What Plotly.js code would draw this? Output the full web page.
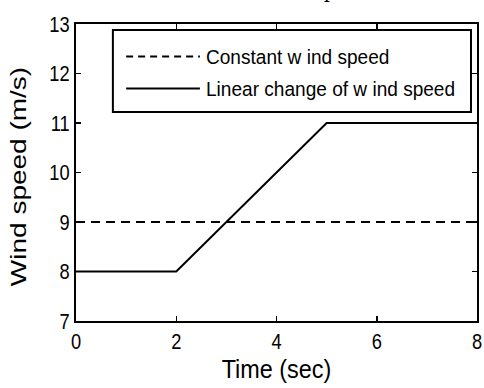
<!DOCTYPE html>
<html>
<head>
<meta charset="utf-8">
<script src="https://cdn.plot.ly/plotly-3.0.1.min.js"></script>
<style>
  html, body { margin: 0; padding: 0; background: #fff; }
  #chart { width: 484px; height: 388px; }
</style>
</head>
<body>
<div id="chart"></div>
<script>
// Wind speed profiles over time
const constantTime = [0, 8];
const constantSpeed = [9, 9];
const rampTime = [0, 2, 5, 8];
const rampSpeed = [8, 8, 11, 11];
const legendLabels = ['Constant w ind speed', 'Linear change of w ind speed'];
const xTicks = [0, 2, 4, 6, 8];
const yTicks = [7, 8, 9, 10, 11, 12, 13];

const sans = '"Liberation Sans", Arial, sans-serif';

const traces = [
  {
    x: constantTime, y: constantSpeed, mode: 'lines', name: legendLabels[0],
    line: { color: '#000', width: 2, dash: '9px,6px' }
  },
  {
    x: rampTime, y: rampSpeed, mode: 'lines', name: legendLabels[1],
    line: { color: '#000', width: 2 }
  }
];

// hand-built legend box, in paper coordinates
const lgX0 = 0.092, lgX1 = 0.985, lgY0 = 0.704, lgY1 = 0.980;
const rowY = [0.8906, 0.7828];
const sampleX0 = 0.125, sampleX1 = 0.309, textX = 0.32;

const shapes = [
  { type: 'rect', xref: 'paper', yref: 'paper', x0: lgX0, x1: lgX1, y0: lgY0, y1: lgY1,
    line: { color: '#000', width: 2 }, fillcolor: 'rgba(255,255,255,1)' },
  { type: 'line', xref: 'paper', yref: 'paper', x0: sampleX0, x1: sampleX1, y0: rowY[0], y1: rowY[0],
    line: { color: '#000', width: 2, dash: '7px,5px' } },
  { type: 'line', xref: 'paper', yref: 'paper', x0: sampleX0, x1: sampleX1, y0: rowY[1], y1: rowY[1],
    line: { color: '#000', width: 2 } }
];

const annotations = legendLabels.map((t, i) => ({
  xref: 'paper', yref: 'paper', x: textX, y: rowY[i], xanchor: 'left', yanchor: 'middle',
  text: t, showarrow: false, font: { family: sans, size: 20.5, color: '#000' }
}));
// descender of the caption line above the figure
annotations.push({
  xref: 'paper', yref: 'paper', x: 0.633, y: 1.066, xanchor: 'center', yanchor: 'bottom',
  text: 'p', showarrow: false, font: { family: '"Liberation Serif", serif', size: 28, color: '#000' }
});

const layout = {
  width: 484, height: 388,
  margin: { l: 76, r: 7, t: 24, b: 67 },
  paper_bgcolor: '#fff', plot_bgcolor: '#fff',
  showlegend: false,
  xaxis: {
    range: [0, 8], tickvals: xTicks, ticktext: xTicks.map(String),
    ticks: 'inside', ticklen: 5, tickwidth: 1.5, tickcolor: '#000',
    showline: true, linecolor: '#000', linewidth: 2, mirror: 'ticks',
    showgrid: false, zeroline: false,
    tickfont: { family: sans, size: 22, color: '#000' },
    title: { text: 'Time (sec)', font: { family: sans, size: 26, color: '#000' }, standoff: 6 }
  },
  yaxis: {
    range: [7, 13], tickvals: yTicks, ticktext: yTicks.map(String),
    ticks: 'inside', ticklen: 5, tickwidth: 1.5, tickcolor: '#000',
    showline: true, linecolor: '#000', linewidth: 2, mirror: 'ticks',
    showgrid: false, zeroline: false,
    tickfont: { family: sans, size: 22, color: '#000' },
    title: { text: 'Wind speed (m/s)', font: { family: sans, size: 28, color: '#000' }, standoff: 11 }
  },
  shapes: shapes,
  annotations: annotations
};

// narrow the horizontal text to a condensed face
function condense(nodes, factor, keepLeft) {
  nodes.forEach(t => {
    const len = t.getComputedTextLength();
    if (!len) return;
    const box = t.getBBox();
    t.setAttribute('textLength', (len * factor).toFixed(2));
    t.setAttribute('lengthAdjust', 'spacingAndGlyphs');
    if (keepLeft) {
      t.setAttribute('text-anchor', 'start');
      t.setAttribute('x', box.x.toFixed(2));
    }
  });
}

// squeeze the rotated y title across the page width as well
function squeezeYTitle(gd, factor, dx, dy) {
  const t = gd.querySelector('.g-ytitle text');
  if (!t) return;
  const r = t.getBoundingClientRect();
  const host = gd.getBoundingClientRect();
  const cx = r.left - host.left + r.width / 2;
  const prev = t.getAttribute('transform') || '';
  t.setAttribute('transform',
    `translate(${(cx + dx).toFixed(2)},${dy}) scale(${factor},1) translate(${(-cx).toFixed(2)},0) ${prev}`);
}

Plotly.newPlot('chart', traces, layout, { displayModeBar: false, staticPlot: true }).then(gd => {
  condense(gd.querySelectorAll('.xtick text, .ytick text'), 0.83, false);
  condense(gd.querySelectorAll('.g-xtitle text'), 0.9, false);
  const ann = Array.from(gd.querySelectorAll('.annotation-text'));
  condense(ann.slice(0, legendLabels.length), 0.93, true);
  condense(ann.slice(legendLabels.length), 0.85, false);
  squeezeYTitle(gd, 0.82, 2, 4);
});
</script>
</body>
</html>
